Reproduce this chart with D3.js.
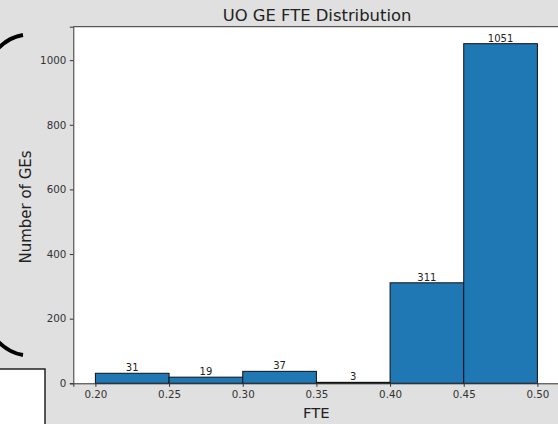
<!DOCTYPE html>
<html>
<head>
<meta charset="utf-8">
<script src="https://cdn.jsdelivr.net/npm/d3@7"></script>
<style>
  html, body { margin: 0; padding: 0; background: #e0e0e0; }
  svg { display: block; font-family: "DejaVu Sans", sans-serif; }
</style>
</head>
<body>
<div id="chart"></div>
<script>
// histogram bins (FTE) and counts
const binStarts = [0.20, 0.25, 0.30, 0.35, 0.40, 0.45];
const binWidth = 0.05;
const counts = [31, 19, 37, 3, 311, 1051];
const xTicks = [0.20, 0.25, 0.30, 0.35, 0.40, 0.45, 0.50];
const yTicks = [0, 200, 400, 600, 800, 1000];

const width = 558, height = 424;
const plot = { left: 73.3, top: 26.7, right: 559.5, bottom: 383.3 };

const svg = d3.select("#chart").append("svg")
    .attr("width", width)
    .attr("height", height);

svg.append("rect").attr("width", width).attr("height", height).attr("fill", "#e0e0e0");

// matplotlib-style 5% margins
const x = d3.scaleLinear()
    .domain([0.185, 0.515])
    .range([plot.left, plot.right]);
const y = d3.scaleLinear()
    .domain([0, d3.max(counts) * 1.05])
    .range([plot.bottom, plot.top]);

// axes background
svg.append("rect")
    .attr("x", plot.left).attr("y", plot.top)
    .attr("width", plot.right - plot.left)
    .attr("height", plot.bottom - plot.top)
    .attr("fill", "#fff");

// bars
const bins = binStarts.map((s, i) => ({ x0: s, x1: s + binWidth, n: counts[i] }));
svg.append("g").selectAll("rect")
    .data(bins)
    .join("rect")
    .attr("x", d => x(d.x0))
    .attr("y", d => y(d.n))
    .attr("width", d => x(d.x1) - x(d.x0))
    .attr("height", d => y(0) - y(d.n))
    .attr("fill", "#1f77b4")
    .attr("stroke", "#111")
    .attr("stroke-width", 1);

// bar labels
svg.append("g").selectAll("text")
    .data(bins)
    .join("text")
    .attr("x", d => x((d.x0 + d.x1) / 2))
    .attr("y", d => y(d.n) - 2)
    .attr("text-anchor", "middle")
    .attr("font-size", 10)
    .attr("fill", "#222")
    .text(d => d.n);

// x axis
const xAxis = svg.append("g")
    .attr("transform", `translate(0,${plot.bottom})`)
    .call(d3.axisBottom(x).tickValues(xTicks).tickFormat(d3.format(".2f")).tickSizeOuter(0).tickSize(3.5).tickPadding(3.5));
xAxis.select(".domain").attr("stroke", "#333");
xAxis.selectAll(".tick line").attr("stroke", "#333");
xAxis.selectAll("text").attr("font-size", 10.3).attr("fill", "#333").attr("font-family", "DejaVu Sans");

// y axis
const yAxis = svg.append("g")
    .attr("transform", `translate(${plot.left},0)`)
    .call(d3.axisLeft(y).tickValues(yTicks).tickFormat(d3.format("d")).tickSizeOuter(0).tickSize(3.5).tickPadding(3.5));
yAxis.select(".domain").attr("stroke", "#333");
yAxis.selectAll(".tick line").attr("stroke", "#333");
yAxis.selectAll("text").attr("font-size", 10.3).attr("fill", "#333").attr("font-family", "DejaVu Sans");

// top spine
svg.append("line")
    .attr("x1", plot.left).attr("x2", plot.right)
    .attr("y1", plot.top).attr("y2", plot.top)
    .attr("stroke", "#333");

// title and labels
svg.append("text")
    .attr("x", 317)
    .attr("y", 21)
    .attr("text-anchor", "middle")
    .attr("font-size", 16.4)
    .attr("fill", "#222")
    .text("UO GE FTE Distribution");

svg.append("text")
    .attr("x", x(0.35))
    .attr("y", 418)
    .attr("text-anchor", "middle")
    .attr("font-size", 14.8)
    .attr("fill", "#222")
    .text("FTE");

svg.append("text")
    .attr("transform", `translate(31,${(plot.top + plot.bottom) / 2 + 2}) rotate(-90)`)
    .attr("text-anchor", "middle")
    .attr("font-size", 15)
    .attr("fill", "#222")
    .text("Number of GEs");

// decorations at left edge (cropped bracket and box)
svg.append("path")
    .attr("d", "M23,35 C-62,48 -62,342 23,355")
    .attr("fill", "none")
    .attr("stroke", "#000")
    .attr("stroke-width", 4);

svg.append("rect")
    .attr("x", -2).attr("y", 369)
    .attr("width", 47).attr("height", 60)
    .attr("fill", "#fff")
    .attr("stroke", "#222")
    .attr("stroke-width", 1.5);
</script>
</body>
</html>
